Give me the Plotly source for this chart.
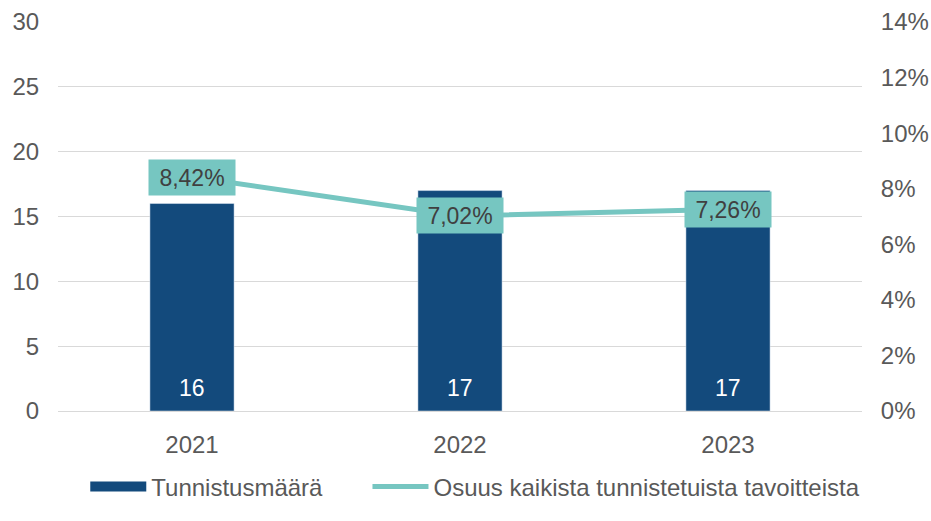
import plotly.graph_objects as go

years = ["2021", "2022", "2023"]
counts = [16, 17, 17]
shares = [8.42, 7.02, 7.26]
share_labels = ["8,42%", "7,02%", "7,26%"]
right_ticks = [0, 2, 4, 6, 8, 10, 12, 14]

bar_color = "#134A7C"
line_color = "#76C6C1"
text_color = "#595959"
font_family = "Liberation Sans, Arial, sans-serif"
fs = 24
fs_lab = 23

xpos = list(range(len(years)))

fig = go.Figure()
fig.add_trace(go.Bar(
    x=xpos, y=counts, name="Tunnistusmäärä",
    marker_color=bar_color, showlegend=False,
))
# legend swatch for the bars (wide rectangle like the reference)
fig.add_trace(go.Scatter(
    x=[xpos[0]], y=[None], name="Tunnistusmäärä" + "\u00a0" * 6, mode="lines",
    line=dict(color=bar_color, width=14),
))
fig.add_trace(go.Scatter(
    x=xpos, y=shares, name="Osuus kaikista tunnistetuista tavoitteista",
    mode="lines", line=dict(color=line_color, width=5),
    yaxis="y2",
))

# bar value labels, inside the bars near the base
for xp, c in zip(xpos, counts):
    fig.add_annotation(
        x=xp, y=0, xref="x", yref="y", text=str(c), showarrow=False,
        font=dict(size=fs_lab, color="white", family=font_family),
        xanchor="center", yanchor="bottom", yshift=8,
    )

# line value labels in teal boxes
for xp, s, lab in zip(xpos, shares, share_labels):
    fig.add_annotation(
        x=xp, y=s, xref="x", yref="y2", text=lab, showarrow=False,
        bgcolor=line_color, font=dict(size=fs_lab, color="#404040", family=font_family),
        width=78, height=27, borderpad=4, xanchor="center", yanchor="middle",
    )

fig.update_layout(
    width=931, height=521, autosize=False,
    margin=dict(l=58, r=69, t=22, b=76),
    plot_bgcolor="white", paper_bgcolor="white",
    font=dict(family=font_family, size=fs, color=text_color),
    showlegend=True,
    legend=dict(orientation="h", x=0.519, xanchor="center", y=-0.195, yanchor="middle",
                itemwidth=56, font=dict(size=fs, color=text_color)),
    xaxis=dict(range=[-0.5, len(years) - 0.5], tickvals=xpos, ticktext=years,
               showgrid=False, showline=False, zeroline=False, automargin=False,
               ticks="outside", ticklen=12, tickcolor="rgba(0,0,0,0)",
               tickfont=dict(size=fs)),
    yaxis=dict(range=[0, 30], dtick=5, gridcolor="#d9d9d9", gridwidth=1,
               zeroline=True, zerolinecolor="#d9d9d9", zerolinewidth=1,
               showline=False, automargin=False,
               ticks="outside", ticklen=13, tickcolor="rgba(0,0,0,0)",
               tickfont=dict(size=fs)),
    yaxis2=dict(range=[0, 14], tickvals=right_ticks,
                ticktext=[f"{t}%" for t in right_ticks],
                overlaying="y", side="right", showgrid=False, zeroline=False,
                showline=False, automargin=False,
                ticks="outside", ticklen=13, tickcolor="rgba(0,0,0,0)",
                tickfont=dict(size=fs)),
    bargap=0.686,
)

fig.write_html(
    "out.html",
    config={"responsive": False, "displayModeBar": False},
    default_width="931px", default_height="521px",
    post_script="document.body.style.margin='0px';document.body.style.overflow='hidden';",
)
